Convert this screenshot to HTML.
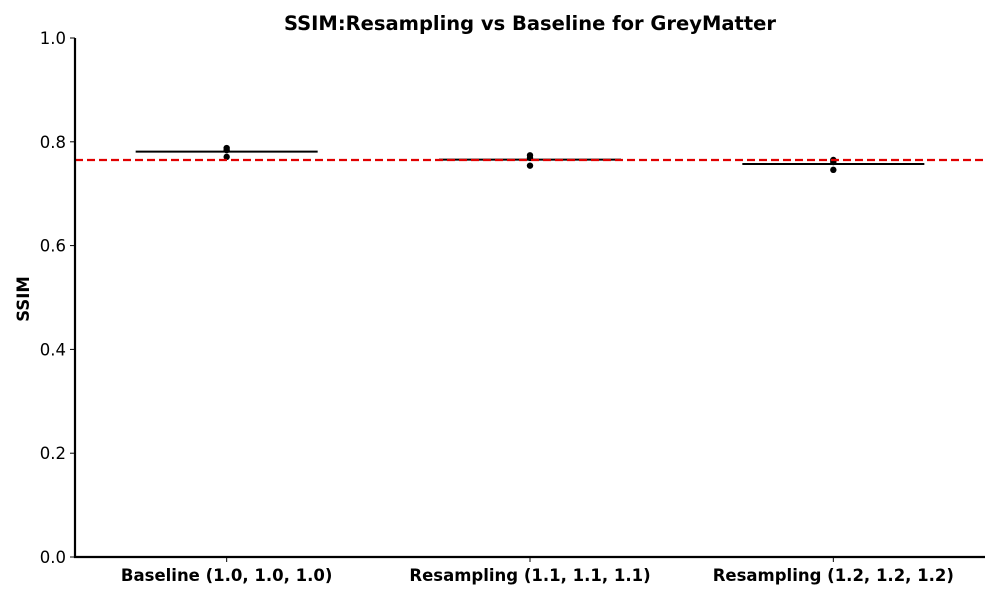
<!DOCTYPE html>
<html><head><meta charset="utf-8"><style>
body{margin:0;background:#fff;font-family:"DejaVu Sans","Liberation Sans",sans-serif}
</style></head><body>
<svg id="c" width="1000" height="600" font-family="DejaVu Sans, Liberation Sans, sans-serif"></svg>
<script>
const categories=["Baseline (1.0, 1.0, 1.0)","Resampling (1.1, 1.1, 1.1)","Resampling (1.2, 1.2, 1.2)"];
const seriesBaseline=[0.788,0.784,0.771];
const seriesRes11=[0.774,0.769,0.754];
const seriesRes12=[0.765,0.761,0.746];
const refLine=0.765;
const yTicks=[0,0.2,0.4,0.6,0.8,1.0];
const tickLabels=["0.0","0.2","0.4","0.6","0.8","1.0"];
const series=[seriesBaseline,seriesRes11,seriesRes12];
const L=75,R=985,T=38,B=557;
const x=i=>L+(i+0.5)*(R-L)/categories.length;
const y=v=>B-(v-0)/(1-0)*(B-T);
const s=document.getElementById('c');const NS="http://www.w3.org/2000/svg";
function el(t,a,p){const e=document.createElementNS(NS,t);for(const k in a)e.setAttribute(k,a[k]);(p||s).appendChild(e);return e;}
let t=el('text',{x:530,y:30,'text-anchor':'middle','font-size':19.5,'font-weight':'bold'});t.textContent="SSIM:Resampling vs Baseline for GreyMatter";


t=el('text',{x:29,y:299,'text-anchor':'middle','font-size':16.5,'font-weight':'bold',transform:'rotate(-90 29 299)'});t.textContent="SSIM";


yTicks.forEach((v,i)=>{el('line',{x1:L-5,x2:L,y1:y(v),y2:y(v),stroke:'#000'});
const tx=el('text',{x:L-9,y:y(v)+6,'text-anchor':'end','font-size':16.5});tx.textContent=tickLabels[i];

});
categories.forEach((c,i)=>{el('line',{x1:x(i),x2:x(i),y1:B,y2:B+5,stroke:'#000'});
const tx=el('text',{x:x(i),y:581,'text-anchor':'middle','font-size':16.5,'font-weight':'bold'});tx.textContent=c;

});
const w=(R-L)/categories.length*0.3;
series.forEach((d,i)=>{const m=d.reduce((a,b)=>a+b,0)/d.length;
const ln=el('line',{x1:x(i)-w,x2:x(i)+w,y1:y(m),y2:y(m),stroke:'#000','stroke-width':2});


d.forEach(v=>{const p=el('circle',{cx:x(i),cy:y(v),r:3.2,fill:'#000'});

});});
const rl=el('line',{x1:L,x2:R,y1:y(refLine),y2:y(refLine),stroke:'#e00000','stroke-width':2.2,'stroke-dasharray':'8,4'});


const ax=el('path',{d:`M${L} ${T}V${B}H${R}`,fill:'none',stroke:'#000','stroke-width':2.2});


</script></body></html>
